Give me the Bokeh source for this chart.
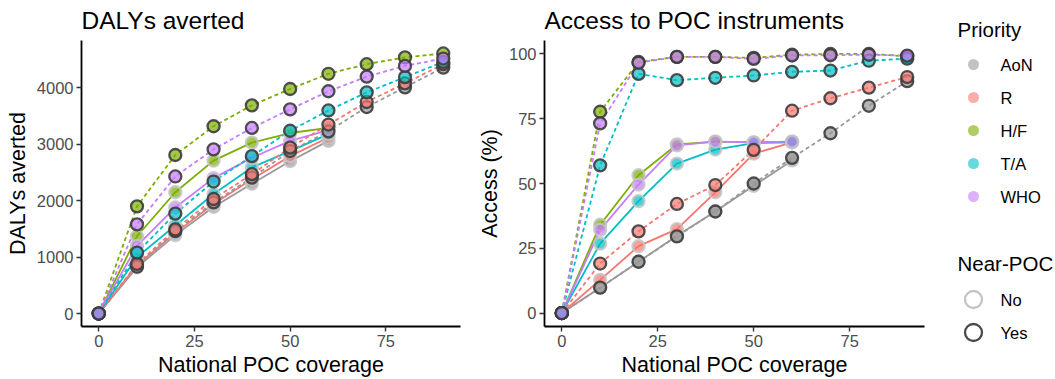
from bokeh.plotting import figure
from bokeh.models import Range1d, FixedTicker, ColumnDataSource
from bokeh.layouts import row
from bokeh.embed import file_html
from bokeh.resources import INLINE
from bokeh.core.properties import value

FONT = "Liberation Sans"

# ---- data -------------------------------------------------------------
coverage_no = [0, 10, 20, 30, 40, 50, 60]
coverage_yes = [0, 10, 20, 30, 40, 50, 60, 70, 80, 90]

priorities = ["AoN", "R", "H/F", "T/A", "WHO"]
priority_colors = ["#999999", "#F8766D", "#7CAE00", "#00BFC4", "#C77CFF"]

# DALYs averted, Near-POC = No
dalys_no_aon = [0, 820, 1390, 1890, 2300, 2700, 3060]
dalys_no_r = [0, 860, 1430, 1940, 2380, 2790, 3120]
dalys_no_hf = [0, 1370, 2150, 2710, 3030, 3200, 3290]
dalys_no_ta = [0, 1000, 1560, 2120, 2590, 2880, 3180]
dalys_no_who = [0, 1200, 1880, 2400, 2760, 3060, 3250]

# DALYs averted, Near-POC = Yes
dalys_yes_aon = [0, 830, 1460, 1970, 2410, 2880, 3230, 3660, 4010, 4360]
dalys_yes_r = [0, 880, 1490, 2030, 2470, 2940, 3350, 3750, 4080, 4420]
dalys_yes_hf = [0, 1900, 2810, 3320, 3690, 3980, 4250, 4420, 4540, 4610]
dalys_yes_ta = [0, 1080, 1770, 2340, 2790, 3240, 3600, 3920, 4190, 4460]
dalys_yes_who = [0, 1580, 2430, 2910, 3290, 3620, 3940, 4200, 4390, 4520]

# Access (%), Near-POC = No
access_no_aon = [0, 9.8, 19.8, 29.8, 39.2, 49.1, 58.9]
access_no_r = [0, 12.8, 25.8, 32.4, 46.6, 61.5, 65.9]
access_no_hf = [0, 34.1, 53.2, 65.1, 66.2, 65.9, 66.2]
access_no_ta = [0, 26.8, 43.2, 57.7, 63.1, 65.6, 65.9]
access_no_who = [0, 32.1, 49.6, 64.7, 66.2, 65.9, 66.2]

# Access (%), Near-POC = Yes
access_yes_aon = [0, 9.8, 19.8, 29.6, 39.2, 50.0, 59.9, 69.4, 80.0, 89.5]
access_yes_r = [0, 19.1, 31.5, 42.1, 49.4, 63.0, 78.1, 82.9, 87.0, 91.1]
access_yes_hf = [0, 77.7, 96.9, 98.9, 98.9, 98.5, 99.7, 100, 100, 99.1]
access_yes_ta = [0, 57.0, 92.3, 89.9, 90.8, 91.7, 93.1, 93.6, 97.4, 98.2]
access_yes_who = [0, 73.2, 96.6, 98.9, 98.9, 98.1, 99.4, 99.5, 99.7, 99.4]

dalys_no = [dalys_no_aon, dalys_no_r, dalys_no_hf, dalys_no_ta, dalys_no_who]
dalys_yes = [dalys_yes_aon, dalys_yes_r, dalys_yes_hf, dalys_yes_ta, dalys_yes_who]
access_no = [access_no_aon, access_no_r, access_no_hf, access_no_ta, access_no_who]
access_yes = [access_yes_aon, access_yes_r, access_yes_hf, access_yes_ta, access_yes_who]

STROKE_NO = "#c4c4c4"
STROKE_YES = "#3c3c3c"


def style_axes(p, yticks, xlabel, ylabel):
    for ax in (p.xaxis[0], p.yaxis[0]):
        ax.axis_line_color = "black"
        ax.axis_line_width = 1.8
        ax.major_tick_line_color = "#333333"
        ax.major_tick_line_width = 1.4
        ax.major_tick_out = 5
        ax.major_tick_in = 0
        ax.minor_tick_line_color = None
        ax.major_label_text_font = FONT
        ax.major_label_text_font_size = "16.5px"
        ax.major_label_text_color = "#4d4d4d"
        ax.major_label_standoff = 3
        ax.axis_label_text_font = FONT
        ax.axis_label_text_font_size = "21.5px"
        ax.axis_label_text_font_style = "normal"
        ax.axis_label_text_color = "black"
    p.xaxis[0].ticker = FixedTicker(ticks=[0, 25, 50, 75])
    p.yaxis[0].ticker = FixedTicker(ticks=yticks)
    p.xaxis[0].axis_label = xlabel
    p.yaxis[0].axis_label = ylabel
    p.xaxis[0].axis_label_standoff = 3
    p.yaxis[0].axis_label_standoff = 4
    p.xgrid.grid_line_color = None
    p.ygrid.grid_line_color = None
    p.outline_line_color = None


def make_panel(title, no_vals, yes_vals, yrange, yticks, ylabel,
               width, border_left, border_right):
    p = figure(width=width, height=379,
               x_range=Range1d(-4.5, 94.5), y_range=Range1d(*yrange),
               min_border_left=border_left, min_border_right=border_right,
               min_border_top=40, min_border_bottom=52,
               output_backend="svg", toolbar_location=None)
    p.title.text = title
    p.title.text_font = FONT
    p.title.text_font_size = "24.5px"
    p.title.text_font_style = "normal"
    p.title.text_color = "black"
    p.title.align = "left"
    p.title.vertical_align = "top"
    p.title.standoff = 10
    style_axes(p, yticks, "National POC coverage", ylabel)

    # connecting lines: solid for No, dashed for Yes
    for vals, col in zip(no_vals, priority_colors):
        p.line(coverage_no, vals, line_color=col, line_width=1.8)
    for vals, col in zip(yes_vals, priority_colors):
        p.line(coverage_yes, vals, line_color=col, line_width=1.8,
               line_dash="4 3")

    # points
    for vals, col in zip(no_vals, priority_colors):
        src = ColumnDataSource(dict(x=coverage_no, y=vals))
        p.scatter("x", "y", source=src, size=12, fill_color=col,
                  fill_alpha=0.7, line_color=STROKE_NO, line_alpha=0.85,
                  line_width=2.3)
    for vals, col in zip(yes_vals, priority_colors):
        src = ColumnDataSource(dict(x=coverage_yes, y=vals))
        p.scatter("x", "y", source=src, size=12, fill_color=col,
                  fill_alpha=0.7, line_color=STROKE_YES, line_alpha=0.9,
                  line_width=2.3)
    return p


p1 = make_panel("DALYs averted", dalys_no, dalys_yes, (-230, 4840),
                [0, 1000, 2000, 3000, 4000], "DALYs averted",
                470, 81, 10)
p2 = make_panel("Access to POC instruments", access_no, access_yes,
                (-5.2, 105.2), [0, 25, 50, 75, 100], "Access (%)",
                465, 74, 11)

# ---- legend panel (coordinates in page pixels) -------------------------
leg = figure(width=120, height=379, x_range=Range1d(935, 1055),
             y_range=Range1d(379, 0), min_border=0,
             output_backend="svg", toolbar_location=None)
leg.frame_align = False
leg.axis.visible = False
leg.xgrid.grid_line_color = None
leg.ygrid.grid_line_color = None
leg.outline_line_color = None

leg.text(x=[957], y=[29], text=["Priority"], text_font=value(FONT),
         text_font_size="20.5px", text_baseline="middle", text_color="black")
key_y = [64, 97, 130, 163, 196]
leg.scatter(x=[973] * 5, y=key_y, size=11, fill_color=priority_colors,
            fill_alpha=0.6, line_color=None)
leg.text(x=[1000] * 5, y=key_y, text=priorities, text_font=value(FONT),
         text_font_size="16.5px", text_baseline="middle", text_color="black")

leg.text(x=[957], y=[263], text=["Near-POC"], text_font=value(FONT),
         text_font_size="20.5px", text_baseline="middle", text_color="black")
leg.scatter(x=[973, 973], y=[299, 332], size=17, fill_color=None,
            line_color=[STROKE_NO, "#4a4a4a"], line_width=2.3)
leg.text(x=[1000, 1000], y=[299, 332], text=["No", "Yes"],
         text_font=value(FONT), text_font_size="16.5px",
         text_baseline="middle", text_color="black")

layout = row(p1, p2, leg, spacing=0)

open("out.html", "w").write(file_html(layout, INLINE))
